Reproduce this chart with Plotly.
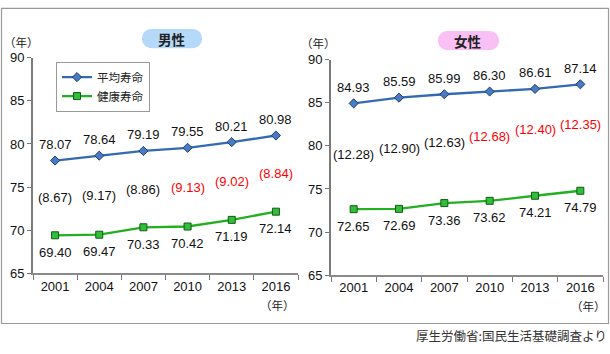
import plotly.graph_objects as go

years = ["2001", "2004", "2007", "2010", "2013", "2016"]
male_avg = [78.07, 78.64, 79.19, 79.55, 80.21, 80.98]
male_healthy = [69.40, 69.47, 70.33, 70.42, 71.19, 72.14]
female_avg = [84.93, 85.59, 85.99, 86.30, 86.61, 87.14]
female_healthy = [72.65, 72.69, 73.36, 73.62, 74.21, 74.79]
male_gap = ["8.67", "9.17", "8.86", "9.13", "9.02", "8.84"]
female_gap = ["12.28", "12.90", "12.63", "12.68", "12.40", "12.35"]
gap_highlight = [False, False, False, True, True, True]

# style (pixel shifts of the gap labels)
male_gap_shift = [0, 0, 0, 0, 0, 0]
female_gap_shift = [2, 5, 6, 10, 13, 13]

W, H = 610, 354
def px(x): return x / W
def py(y): return 1 - y / H

FONT = "Liberation Sans, Arial, Noto Sans CJK JP"
CJK = "Noto Sans CJK JP, Liberation Sans"
BLUE = "#3469b3"
BLUE_M = "#4a7bc2"
BLUE_O = "#1d3f78"
GREEN = "#22b022"
GREEN_M = "#2fbf3a"
GREEN_O = "#145a14"

fig = go.Figure()

def add_series(xa, ya, avg, hl, show):
    fig.add_trace(go.Scatter(x=years, y=avg, mode="lines+markers", name="平均寿命",
                             xaxis=xa, yaxis=ya, showlegend=show,
                             line=dict(color=BLUE, width=2.3),
                             marker=dict(symbol="diamond", size=7, color=BLUE_M,
                                         line=dict(color=BLUE_O, width=1))))
    fig.add_trace(go.Scatter(x=years, y=hl, mode="lines+markers", name="健康寿命",
                             xaxis=xa, yaxis=ya, showlegend=show,
                             line=dict(color=GREEN, width=2.3),
                             marker=dict(symbol="square", size=7, color=GREEN_M,
                                         line=dict(color=GREEN_O, width=1))))

add_series("x", "y", male_avg, male_healthy, True)
add_series("x2", "y2", female_avg, female_healthy, False)

ann = []
def labels(xr, yr, avg, hl, gap, shifts):
    for i in range(len(years)):
        ann.append(dict(x=i, y=avg[i], xref=xr, yref=yr, text=f"{avg[i]:.2f}",
                        showarrow=False, yshift=16, font=dict(size=13, color="#111", family=FONT)))
        ann.append(dict(x=i, y=hl[i], xref=xr, yref=yr, text=f"{hl[i]:.2f}",
                        showarrow=False, yshift=-17, font=dict(size=13, color="#111", family=FONT)))
        mid = (avg[i] + hl[i]) / 2
        ann.append(dict(x=i, y=mid, xref=xr, yref=yr, text=f"({gap[i]})",
                        showarrow=False, yshift=shifts[i],
                        font=dict(size=13, color="#ff0000" if gap_highlight[i] else "#111",
                                  family=FONT)))

labels("x", "y", male_avg, male_healthy, male_gap, male_gap_shift)
labels("x2", "y2", female_avg, female_healthy, female_gap, female_gap_shift)

def txt(x, y, s, size=12, color="#222", xanchor="center", family=CJK):
    ann.append(dict(x=px(x), y=py(y), xref="paper", yref="paper", text=s, showarrow=False,
                    xanchor=xanchor, yanchor="middle", font=dict(size=size, color=color, family=family)))

txt(21, 37, "（年）", 11.5)
txt(318, 38, "（年）", 11.5)
txt(277, 311, "（年）", 11.5)
txt(588, 312, "（年）", 11.5)
txt(172, 33, "<b>男性</b>", 13.5, "#222")
txt(468, 35, "<b>女性</b>", 13.5, "#222")
txt(609, 343, "厚生労働省:国民生活基礎調査より", 12.5, "#333", "right")

def pill(x0, x1, y0, y1, color):
    r = (y1 - y0) / 2
    k = 1.333 * r
    pts = [
        ("M", [(x0 + r, y0)]),
        ("L", [(x1 - r, y0)]),
        ("C", [(x1 - r + k, y0), (x1 - r + k, y1), (x1 - r, y1)]),
        ("L", [(x0 + r, y1)]),
        ("C", [(x0 + r - k, y1), (x0 + r - k, y0), (x0 + r, y0)]),
    ]
    d = ""
    for cmd, ps in pts:
        d += cmd + " " + " ".join(f"{px(a):.5f},{py(b):.5f}" for a, b in ps) + " "
    d += "Z"
    return dict(type="path", xref="paper", yref="paper", path=d, fillcolor=color,
                line=dict(width=0), layer="below")

shapes = [
    dict(type="rect", xref="paper", yref="paper", x0=px(1.5), x1=px(608.5), y0=py(1.5), y1=py(330.5),
         line=dict(color="#9a9a9a", width=1.2), fillcolor="rgba(0,0,0,0)", layer="below"),
    pill(142, 202, 23, 43, "#b5d9f8"),
    pill(438, 499, 25, 45, "#f8c0f4"),
]

xcommon = dict(type="category", range=[-0.5, 5.5], tickson="boundaries", ticks="outside",
               ticklen=5, tickcolor="#777", showline=True, linecolor="#8a8a8a", linewidth=1.5,
               showgrid=False, zeroline=False, tickfont=dict(size=13, color="#111", family=FONT),
               fixedrange=True)
ycommon = dict(range=[65, 90], dtick=5, ticks="outside", ticklen=4, tickcolor="#777",
               showline=True, linecolor="#7a7a7a", linewidth=2, showgrid=False, zeroline=False,
               tickfont=dict(size=13, color="#111", family=FONT), fixedrange=True)

fig.update_layout(
    width=W, height=H, margin=dict(l=0, r=0, t=0, b=0),
    paper_bgcolor="white", plot_bgcolor="rgba(0,0,0,0)",
    xaxis=dict(domain=[px(33), px(298)], anchor="y", **xcommon),
    yaxis=dict(domain=[py(278), py(53)], anchor="x", **ycommon),
    xaxis2=dict(domain=[px(331), px(603)], anchor="y2", **xcommon),
    yaxis2=dict(domain=[py(280), py(55)], anchor="x2", **ycommon),
    legend=dict(x=px(56), y=py(57), xanchor="left", yanchor="top",
                bordercolor="#9a9a9a", borderwidth=1, bgcolor="white",
                font=dict(size=11.5, color="#222", family=CJK),
                itemwidth=30, tracegroupgap=0),
    annotations=ann, shapes=shapes, showlegend=True,
)

fig.write_html("out.html")
